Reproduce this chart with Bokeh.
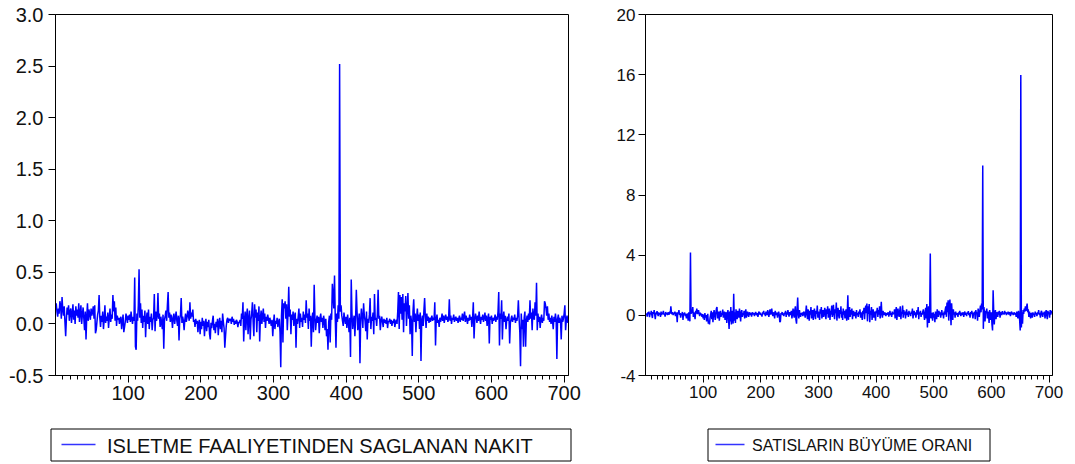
from bokeh.plotting import figure
from bokeh.layouts import row, column
from bokeh.models import Range1d, FixedTicker, NumeralTickFormatter
from bokeh.core.properties import value
from bokeh.embed import file_html
from bokeh.resources import INLINE

# ---------------- data ----------------
TITLE_LEFT = "ISLETME FAALIYETINDEN SAGLANAN NAKIT"
TITLE_RIGHT = "SATISLARIN BÜYÜME ORANI"

X_TICKS = [100, 200, 300, 400, 500, 600, 700]
Y_TICKS_LEFT = [-0.5, 0.0, 0.5, 1.0, 1.5, 2.0, 2.5, 3.0]
Y_TICKS_RIGHT = [-4, 0, 4, 8, 12, 16, 20]

nakit = [
    0.20, 0.12, 0.07, 0.15, 0.10, 0.22, 0.18, 0.05, 0.26, 0.14,
    0.08, 0.17, 0.02, -0.12, 0.05, 0.16, 0.09, 0.18, 0.03, 0.12,
    0.15, 0.01, 0.10, 0.19, 0.04, 0.13, 0.00, 0.17, 0.08, 0.14,
    0.06, 0.20, 0.02, 0.11, 0.18, 0.00, 0.09, 0.16, 0.05, -0.06,
    0.12, -0.15, 0.07, 0.20, 0.03, 0.14, 0.10, 0.04, 0.15, 0.08,
    0.12, 0.17, 0.05, 0.18, -0.09, -0.06, 0.02, 0.09, 0.13, 0.28,
    0.06, -0.03, 0.08, 0.02, 0.12, -0.05, 0.04, 0.18, 0.01, 0.07,
    0.03, 0.11, -0.04, 0.06, 0.15, 0.02, 0.09, 0.05, 0.28, 0.12,
    0.22, 0.03, 0.16, -0.02, 0.08, 0.04, 0.06, 0.00, 0.05, 0.07,
    -0.05, 0.03, 0.09, -0.08, -0.03, 0.02, 0.10, 0.06, 0.01, 0.08,
    0.04, 0.09, 0.02, 0.12, 0.05, 0.00, 0.07, 0.03, 0.45, -0.22,
    -0.25, 0.10, 0.03, 0.18, 0.53, 0.06, 0.20, 0.01, 0.14, -0.04,
    0.08, 0.02, 0.13, -0.13, 0.05, 0.11, 0.00, 0.14, -0.05, 0.07,
    0.02, 0.10, -0.06, 0.04, 0.06, 0.29, -0.07, 0.12, 0.03, 0.08,
    0.30, 0.05, 0.10, -0.03, 0.07, 0.01, -0.05, 0.09, -0.24, 0.04,
    0.08, 0.13, 0.03, 0.18, 0.31, 0.06, 0.11, 0.02, 0.09, 0.05,
    -0.04, 0.07, 0.10, 0.00, 0.06, 0.12, 0.03, -0.02, 0.08, -0.16,
    0.05, 0.09, 0.25, 0.01, 0.07, 0.03, -0.06, 0.04, 0.10, 0.02,
    0.06, 0.13, 0.08, 0.03, 0.21, 0.05, 0.11, 0.07, 0.14, 0.02,
    0.04, -0.03, 0.05, 0.00, 0.03, -0.08, 0.01, 0.04, -0.10, 0.02,
    -0.05, 0.06, -0.02, 0.03, -0.12, 0.00, 0.05, -0.07, 0.02, -0.03,
    0.04, -0.10, -0.15, 0.01, -0.04, 0.03, 0.08, -0.06, 0.00, -0.09,
    0.02, -0.03, 0.05, -0.11, 0.01, 0.06, -0.05, 0.03, -0.08, 0.10,
    0.02, -0.04, -0.23, -0.12, -0.02, 0.04, 0.06, 0.01, 0.05, 0.03,
    0.05, 0.00, 0.07, 0.02, 0.05, -0.01, 0.03, 0.00, 0.04, 0.02,
    -0.03, 0.02, 0.01, 0.04, -0.02, 0.10, 0.05, 0.21, -0.17, 0.03,
    0.12, -0.06, 0.08, 0.15, -0.10, 0.05, 0.13, -0.15, 0.04, 0.10,
    0.21, 0.02, -0.12, 0.19, 0.06, 0.14, -0.08, 0.11, 0.03, 0.17,
    -0.17, 0.06, 0.13, 0.00, 0.08, 0.15, 0.02, 0.10, -0.04, 0.07,
    0.03, 0.09, 0.05, 0.00, 0.06, 0.02, -0.02, 0.04, -0.12, 0.01,
    0.09, -0.05, 0.03, 0.00, 0.06, -0.03, 0.02, 0.05, -0.08, -0.42,
    0.08, 0.24, -0.18, 0.20, 0.15, 0.22, 0.05, 0.19, -0.06, 0.10,
    0.36, 0.07, 0.14, -0.10, 0.09, 0.04, 0.12, -0.02, 0.08, 0.11,
    -0.23, 0.05, 0.00, 0.07, 0.15, -0.04, 0.10, 0.02, 0.06, -0.03,
    0.12, 0.04, 0.09, 0.01, 0.23, 0.06, 0.10, -0.05, 0.15, 0.03,
    0.08, -0.22, 0.05, 0.11, -0.08, 0.38, 0.07, -0.06, 0.03, 0.08,
    0.01, 0.07, -0.09, 0.05, 0.10, 0.02, 0.06, -0.04, 0.08, 0.03,
    -0.06, 0.05, -0.12, -0.05, -0.25, 0.02, 0.08, -0.18, 0.10, 0.04,
    0.39, 0.28, 0.15, 0.47, 0.06, -0.23, 0.10, 0.02, 0.18, 0.05,
    2.52, 0.12, 0.18, 0.08, 0.03, -0.02, 0.11, 0.05, 0.00, 0.07,
    -0.04, 0.09, 0.02, -0.08, 0.06, -0.32, 0.43, 0.10, -0.05, 0.03,
    0.08, -0.12, 0.05, 0.33, 0.12, -0.06, 0.02, 0.10, -0.38, 0.04,
    0.15, 0.06, -0.04, 0.20, 0.08, 0.03, -0.07, 0.12, -0.15, 0.05,
    0.01, 0.09, 0.25, -0.05, 0.07, 0.03, 0.11, -0.10, 0.29, 0.04,
    0.06, -0.02, 0.10, 0.33, 0.05, 0.08, -0.06, 0.03, 0.07, 0.02,
    -0.03, 0.05, 0.01, 0.04, 0.00, 0.06, -0.04, 0.03, 0.02, 0.05,
    0.00, 0.04, -0.02, 0.03, 0.01, 0.05, -0.03, 0.02, 0.04, 0.00,
    0.12, 0.31, -0.05, 0.28, 0.10, 0.26, 0.04, 0.29, -0.08, 0.20,
    0.12, 0.27, -0.02, 0.15, 0.30, 0.05, 0.18, -0.10, 0.08, 0.02,
    -0.31, 0.12, 0.24, 0.02, 0.10, -0.08, 0.06, 0.15, 0.03, 0.09,
    -0.05, 0.11, -0.36, 0.04, 0.08, -0.02, 0.13, 0.25, 0.06, -0.04,
    0.10, 0.03, 0.07, 0.01, 0.06, 0.02, 0.05, 0.08, 0.03, 0.06,
    0.04, 0.21, -0.21, 0.05, 0.09, 0.01, 0.04, -0.03, 0.06, 0.02,
    0.05, 0.10, 0.03, 0.08, 0.01, 0.06, 0.09, 0.04, 0.07, 0.02,
    0.05, 0.24, 0.03, 0.08, 0.00, 0.06, 0.04, 0.09, 0.02, 0.05,
    0.07, 0.03, 0.06, 0.01, 0.05, 0.08, 0.02, 0.06, 0.04, 0.10,
    0.03, 0.07, 0.12, 0.02, 0.08, 0.05, 0.00, 0.06, 0.03, 0.09,
    0.04, 0.07, -0.03, 0.05, 0.21, -0.14, 0.04, 0.10, 0.06, 0.01,
    0.08, 0.03, 0.12, 0.05, 0.00, 0.07, 0.04, 0.09, 0.02, 0.06,
    0.11, 0.03, 0.08, -0.02, 0.05, 0.10, -0.19, 0.07, 0.04, 0.08,
    0.00, 0.06, 0.03, 0.05, 0.09, 0.02, 0.07, 0.04, 0.12, 0.31,
    -0.21, 0.10, 0.05, 0.23, -0.15, 0.06, 0.12, 0.02, 0.08, -0.05,
    0.04, 0.07, 0.03, 0.10, -0.19, 0.01, 0.05, 0.08, 0.02, 0.06,
    0.04, 0.09, 0.01, 0.06, 0.03, 0.08, 0.23, 0.05, -0.08, -0.41,
    0.10, -0.05, 0.04, -0.22, 0.06, 0.12, -0.22, 0.03, 0.08, 0.02,
    0.10, 0.04, 0.23, 0.05, 0.11, -0.06, 0.15, 0.07, 0.04, 0.21,
    0.08, 0.40, -0.06, 0.10, 0.02, 0.07, -0.04, 0.05, 0.09, 0.01,
    0.06, 0.03, 0.22, 0.20, 0.15, 0.08, 0.17, 0.04, 0.10, 0.02,
    0.06, 0.00, 0.08, 0.03, -0.05, 0.07, 0.02, 0.10, 0.04, -0.34,
    0.05, 0.09, 0.01, 0.06, 0.03, -0.15, 0.08, 0.02, 0.05, 0.10,
    0.18, -0.06, 0.04, 0.08, 0.01,
]

buyume = [
    0.05, 0.12, -0.08, 0.20, 0.10, 0.25, -0.12, 0.15, 0.08, 0.30,
    0.02, -0.18, 0.22, 0.10, 0.35, 0.05, -0.25, 0.18, 0.08, 0.28,
    0.12, -0.05, 0.20, 0.06, 0.15, -0.10, 0.25, 0.02, 0.18, 0.10,
    0.30, 0.05, 0.12, -0.08, 0.22, 0.08, 0.15, 0.02, 0.20, 0.10,
    0.05, 0.25, 0.12, 0.60, 0.18, 0.08, 0.22, 0.02, 0.15, 0.10,
    0.25, -0.05, 0.18, 0.08, -0.45, 0.20, 0.12, 0.35, 0.02, 0.15,
    -0.15, 0.10, 0.05, 0.22, -0.30, 0.12, 0.08, 0.18, -0.05, 0.10,
    -0.20, 0.05, 0.12, -0.35, 0.20, 0.02, -0.40, 4.18, 0.10, 0.30,
    0.15, 0.55, -0.10, 0.20, 0.05, -0.25, 0.30, 0.12, 0.45, 0.08,
    0.20, 0.35, 0.10, -0.05, 0.18, 0.02, 0.12, -0.10, 0.08, -0.20,
    0.05, -0.30, 0.15, -0.15, 0.02, -0.40, -0.20, 0.10, -0.55, -0.35,
    -0.60, -0.15, 0.05, 0.30, -0.25, 0.20, -0.45, 0.10, 0.35, 0.00,
    -0.30, 0.15, 0.45, 0.55, -0.20, 0.10, 0.25, -0.35, 0.05, 0.30,
    -0.10, 0.15, 0.02, 0.38, -0.15, 0.10, 0.25, -0.30, 0.08, 0.20,
    -0.50, 0.15, 0.35, -0.20, -0.90, 0.25, -0.40, 0.55, -0.60, 0.10,
    0.30, -0.55, 1.44, -0.35, 0.20, -0.50, 0.40, 0.05, -0.25, 0.30,
    0.10, -0.15, 0.45, 0.08, -0.40, 0.20, 0.35, -0.10, 0.15, 0.02,
    0.30, -0.20, 0.12, 0.40, -0.15, 0.08, 0.25, 0.05, -0.10, 0.20,
    0.10, 0.02, 0.18, -0.08, 0.12, 0.20, 0.05, 0.15, -0.05, 0.10,
    0.22, 0.08, 0.02, 0.15, -0.10, 0.12, 0.25, 0.05, 0.18, 0.02,
    0.10, -0.08, 0.20, 0.12, 0.30, 0.05, 0.15, -0.05, 0.25, 0.10,
    0.02, 0.35, 0.12, -0.10, 0.20, 0.40, 0.05, 0.15, 0.45, 0.08,
    -0.05, 0.20, 0.10, -0.20, 0.30, 0.12, 0.02, 0.18, -0.15, 0.10,
    0.25, 0.05, -0.45, -0.40, 0.15, 0.08, 0.22, 0.02, 0.12, -0.05,
    0.18, 0.10, 0.30, -0.10, 0.20, 0.05, 0.35, 0.12, -0.08, 0.22,
    0.02, 0.15, 0.30, -0.20, 0.10, 0.45, 0.05, -0.15, 0.35, 0.60,
    -0.30, -0.55, 0.40, 1.18, 0.10, -0.20, 0.35, 0.05, -0.10, 0.15,
    0.02, 0.20, -0.05, 0.12, 0.25, 0.08, -0.15, 0.20, 0.65, 0.10,
    -0.25, 0.40, 0.15, -0.35, 0.30, 0.05, 0.55, -0.20, 0.12, 0.35,
    -0.30, 0.20, 0.45, 0.02, -0.25, 0.30, 0.10, 0.65, -0.15, 0.25,
    0.05, -0.30, 0.40, 0.12, 0.55, -0.20, 0.15, 0.35, -0.10, 0.25,
    0.50, 0.02, -0.25, 0.40, 0.10, 0.60, -0.15, 0.20, 0.45, -0.30,
    0.30, 0.05, 0.65, -0.10, 0.25, 0.70, 0.08, -0.25, 0.40, 0.15,
    0.85, -0.35, 0.20, 0.50, 0.02, -0.20, 0.35, 0.10, 0.60, -0.15,
    0.25, -0.30, 0.45, 0.05, 0.30, -0.20, 0.15, 0.40, -0.35, 0.20,
    1.33, -0.30, 0.25, 0.55, -0.10, 0.35, 0.05, 0.45, -0.25, 0.15,
    0.30, -0.05, 0.20, 0.10, -0.20, 0.35, 0.02, 0.15, -0.10, 0.25,
    0.08, 0.40, -0.15, 0.20, 0.05, -0.30, 0.30, 0.10, 0.50, -0.25,
    0.35, 0.65, 0.15, 0.78, -0.40, 0.60, 0.10, 0.75, -0.45, 0.30,
    0.05, 0.55, -0.30, 0.20, 0.40, -0.15, 0.25, 0.10, -0.35, 0.30,
    0.15, 0.50, -0.10, 0.35, 0.05, 0.60, -0.20, 0.20, 0.90, 0.10,
    -0.15, 0.30, 0.12, 0.02, 0.20, 0.08, -0.05, 0.15, 0.05, 0.10,
    0.20, -0.08, 0.12, 0.30, 0.02, 0.15, -0.10, 0.25, 0.05, 0.18,
    0.10, 0.40, -0.20, 0.20, 0.55, -0.30, 0.15, 0.45, 0.05, -0.10,
    0.30, 0.60, -0.25, 0.20, 0.10, 0.65, -0.15, 0.35, 0.05, 0.25,
    -0.20, 0.15, 0.40, 0.02, 0.20, -0.10, 0.30, 0.08, 0.15, -0.05,
    0.25, 0.10, 0.45, -0.20, 0.15, 0.30, 0.02, 0.20, -0.15, 0.10,
    0.35, 0.05, 0.55, -0.25, 0.20, 0.10, 0.30, -0.10, 0.15, 0.05,
    0.25, 0.40, 0.02, -0.30, 0.15, 0.50, -0.20, 0.75, -0.80, 0.10,
    0.60, -0.50, 0.30, 4.11, -0.20, 0.15, 0.05, -0.35, 0.20, -0.15,
    0.10, -0.45, 0.25, 0.02, -0.25, 0.40, 0.15, -0.10, 0.30, 0.05,
    0.20, -0.15, 0.10, 0.35, 0.02, 0.15, -0.20, 0.25, 0.05, 0.40,
    0.60, -0.10, 0.85, 0.20, 1.00, -0.35, 0.45, 1.05, 0.30, -0.65,
    0.80, 0.10, -0.30, 0.40, 0.05, 0.20, -0.15, 0.25, 0.10, 0.02,
    0.15, -0.10, 0.20, 0.05, 0.30, 0.10, -0.05, 0.18, 0.02, 0.12,
    0.20, -0.10, 0.15, 0.25, 0.05, 0.12, -0.05, 0.20, 0.10, 0.28,
    0.02, 0.15, -0.15, 0.22, 0.10, 0.30, 0.05, -0.20, 0.18, 0.08,
    0.25, -0.25, 0.35, 0.10, 0.20, -0.35, 0.45, 0.15, -0.10, 0.30,
    0.65, 0.20, 0.78, 0.40, 9.96, -0.90, 0.55, 0.20, -0.40, 0.30,
    0.15, 0.45, -0.20, 0.25, 0.10, -0.50, 0.35, 0.05, -0.30, 0.20,
    -0.60, -1.00, 1.67, 0.30, -0.60, 0.15, 0.35, -0.25, 0.10, 0.20,
    -0.10, 0.25, 0.05, 0.30, -0.15, 0.12, 0.20, 0.02, 0.28, 0.10,
    0.15, 0.05, 0.30, 0.12, 0.22, 0.02, 0.18, 0.10, 0.25, 0.05,
    0.15, 0.20, -0.05, 0.12, 0.25, 0.08, 0.18, 0.02, 0.10, 0.20,
    0.05, 0.15, -0.10, 0.25, 0.10, -0.20, 0.30, 0.05, -0.30, -1.00,
    15.98, -0.80, 0.20, -0.55, 0.35, 0.10, 0.45, 0.25, 0.60, 0.30,
    0.55, 0.78, 0.20, 0.40, -0.10, 0.25, 0.05, -0.20, 0.15, 0.10,
    -0.15, 0.20, 0.05, 0.12, -0.10, 0.25, 0.08, 0.15, -0.05, 0.20,
    0.10, 0.35, 0.02, 0.15, -0.15, 0.20, 0.30, 0.05, -0.10, 0.18,
    0.08, 0.25, -0.20, 0.15, 0.35, 0.02, -0.25, 0.30, 0.10, 0.20,
    -0.15, 0.35, 0.05, 0.20, 0.30,
]

obs_left = list(range(1, len(nakit) + 1))
obs_right = list(range(1, len(buyume) + 1))

BLUE = "#0000ff"
FONT = "Liberation Sans"


def make_panel(xs, ys, y_lo, y_hi, yticks, yfmt, width, border_left, border_right,
               tick_font_size, y_standoff):
    p = figure(width=width, height=412, output_backend="svg", toolbar_location=None,
               x_range=Range1d(0, 706), y_range=Range1d(y_lo, y_hi),
               min_border_left=border_left, min_border_right=border_right,
               min_border_top=14, min_border_bottom=37, frame_align=False)
    p.line(xs, ys, line_color=BLUE, line_width=1.5)
    p.grid.visible = False
    p.outline_line_color = "black"
    p.outline_line_width = 1
    p.outline_line_alpha = 1.0
    p.background_fill_color = "white"
    p.border_fill_color = "white"

    xa = p.xaxis[0]
    xa.ticker = FixedTicker(ticks=X_TICKS, minor_ticks=list(range(10, 706, 10)))
    xa.major_tick_out = 7
    xa.major_tick_in = 0
    xa.minor_tick_out = 4
    xa.minor_tick_in = 0
    xa.major_label_standoff = 3
    ya = p.yaxis[0]
    ya.ticker = FixedTicker(ticks=yticks)
    ya.formatter = NumeralTickFormatter(format=yfmt)
    ya.major_tick_out = 7
    ya.major_tick_in = 0
    ya.minor_tick_line_color = None
    ya.major_label_standoff = y_standoff
    for ax in (xa, ya):
        ax.axis_line_color = "black"
        ax.major_tick_line_color = "black"
        ax.major_label_text_font = FONT
        ax.major_label_text_font_size = tick_font_size
        ax.major_label_text_color = "#111111"
    xa.minor_tick_line_color = "black"
    return p


def make_legend(width, box_l, box_r, line_l, line_r, text_x, label, font_size):
    q = figure(width=width, height=52, output_backend="svg", toolbar_location=None,
               x_range=Range1d(0, width), y_range=Range1d(52, 0),
               min_border=0, min_border_left=0, min_border_right=0,
               min_border_top=0, min_border_bottom=0, frame_align=False)
    q.axis.visible = False
    q.grid.visible = False
    q.outline_line_color = None
    q.quad(left=[box_l], right=[box_r], top=[16.5], bottom=[48.5],
           fill_color=None, line_color="black", line_width=1)
    q.line([line_l, line_r], [32, 32], line_color="#3333ff", line_width=1.3)
    q.text(x=[text_x], y=[33], text=[label], text_baseline="middle", text_align="left",
           text_font=value(FONT), text_font_size=font_size, text_color="#111111")
    return q


p1 = make_panel(obs_left, nakit, -0.5, 3.0, Y_TICKS_LEFT, "0.0", 600, 55, 32, "20px", 5)
p2 = make_panel(obs_right, buyume, -4, 20, Y_TICKS_RIGHT, "0", 475, 45, 23, "17px", 3)

l1 = make_legend(600, 50.5, 570.5, 61, 95, 106.5, TITLE_LEFT, "20px")
l2 = make_legend(475, 107.5, 389.5, 115, 144, 151.5, TITLE_RIGHT, "16px")

layout = row(column(p1, l1, spacing=0), column(p2, l2, spacing=0), spacing=0)

open("out.html", "w").write(file_html(layout, INLINE))
